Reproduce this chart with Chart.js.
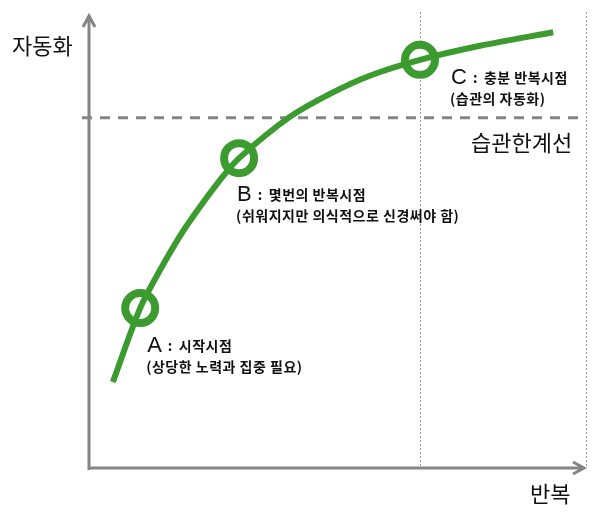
<!DOCTYPE html>
<html>
<head>
<meta charset="utf-8">
<script src="https://cdn.jsdelivr.net/npm/chart.js@4"></script>
<style>
  html, body { margin: 0; padding: 0; background: #fff; }
  #wrap { width: 600px; height: 520px; }
</style>
</head>
<body>
<div id="wrap"><canvas id="myChart"></canvas></div>
<script>
// repetition (x) vs automation (y), both 0..100
let curveX = [4.8, 10.3, 14.3, 18.3, 22.3, 26.4, 30.2, 40.4, 48.5, 56.5, 66.6, 78.7, 93.4];
let curveY = [19.0, 35.3, 43.7, 51.2, 57.6, 63.6, 68.4, 77.5, 82.6, 86.6, 90.1, 93.2, 96.2];

let stageNames = ['A', 'B', 'C'];
let stageX = [10.3, 30.2, 66.6];
let stageY = [35.3, 68.4, 90.1];
let stageTitle = ['시작시점', '몇번의 반복시점', '충분 반복시점'];
let stageNote = ['(상당한 노력과 집중 필요)', '(쉬워지지만 의식적으로 신경써야 함)', '(습관의 자동화)'];

let habitLine = 77.3;
let habitLabel = '습관한계선';
let refX = [66.6, 100];
let yTitle = '자동화';
let xTitle = '반복';

const green = '#3b9b2f';
const grey = '#858585';
const kfont = '"Noto Sans CJK KR", "Noto Sans", sans-serif';

let diagram = {
    id: 'diagram',
    beforeDatasetsDraw(chart) {
        const ctx = chart.ctx;
        const xs = chart.scales.x, ys = chart.scales.y;
        const area = chart.chartArea;
        ctx.save();
        // dotted verticals
        ctx.strokeStyle = '#999';
        ctx.lineWidth = 1;
        ctx.setLineDash([2, 2]);
        refX.forEach(function(v) {
            let px = Math.round(xs.getPixelForValue(v)) + 0.5;
            ctx.beginPath();
            ctx.moveTo(px, area.top - 3);
            ctx.lineTo(px, area.bottom);
            ctx.stroke();
        });
        // habit line
        ctx.strokeStyle = grey;
        ctx.lineWidth = 3;
        ctx.setLineDash([10, 8]);
        let hy = ys.getPixelForValue(habitLine);
        ctx.beginPath();
        ctx.moveTo(area.left - 7, hy);
        ctx.lineTo(area.right - 2, hy);
        ctx.stroke();
        ctx.setLineDash([]);
        // axes
        ctx.strokeStyle = grey;
        ctx.lineWidth = 3;
        ctx.beginPath();
        ctx.moveTo(area.left, area.bottom + 2);
        ctx.lineTo(area.left, area.top + 1);
        ctx.moveTo(area.left - 6, area.top + 12);
        ctx.lineTo(area.left, area.top + 1);
        ctx.lineTo(area.left + 6, area.top + 12);
        ctx.moveTo(area.left - 1, area.bottom);
        ctx.lineTo(area.right - 2, area.bottom);
        ctx.moveTo(area.right - 13, area.bottom - 6);
        ctx.lineTo(area.right - 2, area.bottom);
        ctx.lineTo(area.right - 13, area.bottom + 6);
        ctx.stroke();
        // texts
        ctx.fillStyle = '#111';
        ctx.textBaseline = 'middle';
        ctx.font = '22px ' + kfont;
        ctx.textAlign = 'left';
        ctx.fillText(yTitle, 12, 46);
        ctx.fillText(xTitle, 530, 494);
        ctx.fillText(habitLabel, 471, 143);
        ctx.restore();
    },
    afterDatasetsDraw(chart) {
        const ctx = chart.ctx;
        const xs = chart.scales.x, ys = chart.scales.y;
        ctx.save();
        ctx.fillStyle = '#111';
        ctx.textBaseline = 'middle';
        ctx.textAlign = 'left';
        let offs = [[7, 38], [-2, 37], [31, 18]];
        stageNames.forEach(function(n, i) {
            let px = xs.getPixelForValue(stageX[i]) + offs[i][0];
            let py = ys.getPixelForValue(stageY[i]) + offs[i][1];
            ctx.letterSpacing = '0px';
            ctx.font = '22px Arial, "Liberation Sans", sans-serif';
            ctx.fillText(n, px, py);
            let w = ctx.measureText(n).width;
            ctx.font = 'bold 14px ' + kfont;
            ctx.letterSpacing = '0.5px';
            ctx.fillText(':', px + w + 6, py);
            ctx.fillText(stageTitle[i], px + w + 17, py);
            ctx.fillText(stageNote[i], px - 1, py + 21);
        });
        ctx.restore();
    }
};

new Chart(document.getElementById('myChart'), {
    type: 'scatter',
    data: {
        datasets: [{
            type: 'line',
            data: curveX.map(function(v, i) { return { x: v, y: curveY[i] }; }),
            borderColor: green,
            borderWidth: 6,
            pointRadius: 0,
            tension: 0.3,
            fill: false
        }, {
            data: stageX.map(function(v, i) { return { x: v, y: stageY[i] }; }),
            pointRadius: 15,
            pointBorderWidth: 8,
            pointBackgroundColor: '#fff',
            pointBorderColor: green
        }]
    },
    options: {
        animation: false,
        responsive: true,
        maintainAspectRatio: false,
        layout: { autoPadding: false, padding: { left: 89, right: 14, top: 15, bottom: 52 } },
        scales: {
            x: { type: 'linear', min: 0, max: 100, display: false },
            y: { type: 'linear', min: 0, max: 100, display: false }
        },
        plugins: {
            legend: { display: false },
            tooltip: { enabled: false }
        }
    },
    plugins: [diagram]
});
</script>
</body>
</html>
